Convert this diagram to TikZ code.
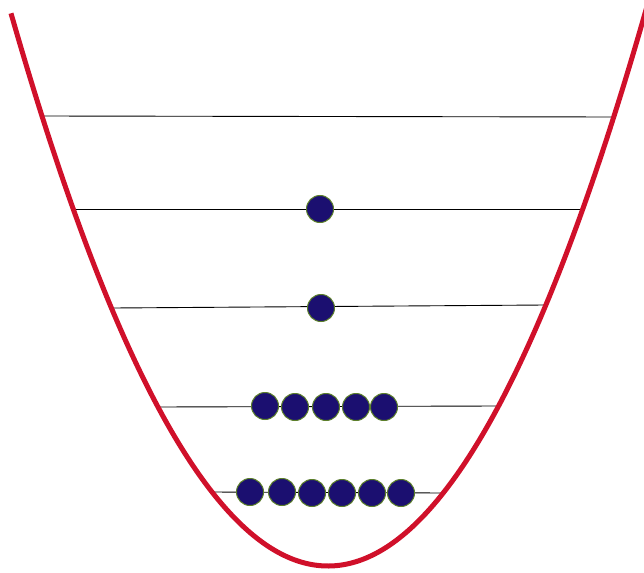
\documentclass[tikz,border=0pt]{standalone}
\begin{document}
\begin{tikzpicture}[x=1pt,y=-1pt,
  ball/.style={circle,draw=ballline,fill=ballfill,line width=1pt,minimum size=27pt,inner sep=0pt},
  level/.style={draw=black,line width=0.9pt},
  well/.style={draw=wellred,line width=5pt}]
\definecolor{wellred}{HTML}{D0102A}
\definecolor{ballfill}{HTML}{1B0F70}
\definecolor{ballline}{HTML}{5C7F2A}
\useasboundingbox (0,0) rectangle (644,572);
\begin{scope}
\clip (0,0) rectangle (644,572);
% energy levels
\coordinate (l1a) at (40,116); \coordinate (l1b) at (614,117);
\coordinate (l2a) at (72,209); \coordinate (l2b) at (583,209);
\coordinate (l3a) at (113,308); \coordinate (l3b) at (545,305);
\coordinate (l4a) at (158,407); \coordinate (l4b) at (497,406);
\coordinate (l5a) at (212,492); \coordinate (l5b) at (443,493);
\draw[level] (l1a) -- (l1b);
\draw[level] (l2a) -- (l2b);
\draw[level] (l3a) -- (l3b);
\draw[level] (l4a) -- (l4b);
\draw[level] (l5a) -- (l5b);
% well
\draw[well,line cap=butt] plot[domain=-3.17:3.24,samples=120,smooth] ({328+100*\x},{566-55*\x*\x});
\end{scope}
% balls
\node[ball] (b2) at (320,209) {};
\node[ball] (b3) at (321,308) {};
\node[ball] (b41) at (265,406) {};
\node[ball] (b42) at (295,407) {};
\node[ball] (b43) at (326,407) {};
\node[ball] (b44) at (356,407) {};
\node[ball] (b45) at (384,407) {};
\node[ball] (b51) at (250,492) {};
\node[ball] (b52) at (282,492) {};
\node[ball] (b53) at (312,493) {};
\node[ball] (b54) at (342,493) {};
\node[ball] (b55) at (372,493) {};
\node[ball] (b56) at (401,493) {};
\end{tikzpicture}
\end{document}
